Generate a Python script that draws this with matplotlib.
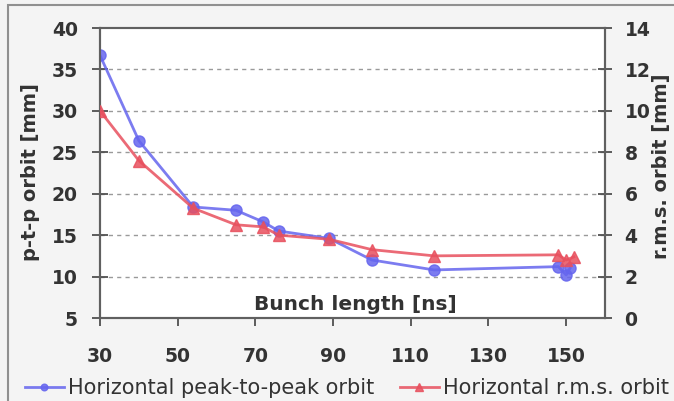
import matplotlib
matplotlib.use("Agg")
import matplotlib.pyplot as plt
from matplotlib.patches import Rectangle

plt.rcParams['font.family'] = ['DejaVu Sans']

# data
bunch_len_ptp = [30, 40, 54, 65, 72, 76, 89, 100, 116, 148, 150, 151]
ptp_orbit = [36.7, 26.4, 18.4, 18.0, 16.6, 15.5, 14.6, 12.0, 10.8, 11.2, 10.2, 11.0]
bunch_len_rms = [30, 40, 54, 65, 72, 76, 89, 100, 116, 148, 150, 152]
rms_orbit = [10.0, 7.6, 5.3, 4.5, 4.4, 4.0, 3.8, 3.3, 3.0, 3.05, 2.8, 2.95]

x_ticks = [30, 50, 70, 90, 110, 130, 150]
left_ticks = [5, 10, 15, 20, 25, 30, 35, 40]
right_ticks = [0, 2, 4, 6, 8, 10, 12, 14]

blue = '#6565ee'
red = '#e8505e'
txt = '#333333'

fig = plt.figure(figsize=(6.74, 4.01), dpi=100)
fig.patch.set_facecolor('#f4f4f4')
fig.patches.append(Rectangle((8/674, -0.1), 1.0, 1 - 5/401 + 0.1, transform=fig.transFigure,
                             fill=False, edgecolor='#909090', lw=1.5))

ax = fig.add_axes([100/674, 1 - 318/401, 505/674, 290/401])
ax.set_facecolor('white')
ax2 = ax.twinx()

l1, = ax.plot(bunch_len_ptp, ptp_orbit, color=blue, marker='o', ms=8, lw=2,
              markerfacecolor=blue, markeredgecolor=blue, alpha=0.85, zorder=3)
l2, = ax2.plot(bunch_len_rms, rms_orbit, color=red, marker='^', ms=8.5, lw=2,
               markerfacecolor=red, markeredgecolor=red, alpha=0.85, zorder=3)

ax.set_xlim(30, 160)
ax.set_ylim(5, 40)
ax2.set_ylim(0, 14)
ax.set_xticks(x_ticks)
ax.set_yticks(left_ticks)
ax2.set_yticks(right_ticks)

for y in left_ticks[1:-1]:
    ax.axhline(y, color='#9a9a9a', lw=1.0, ls=(0, (3, 3)), zorder=1)

for a in (ax, ax2):
    for s in a.spines.values():
        s.set_color('#606060')
        s.set_linewidth(1.5)
ax.spines['top'].set_color('#909090')

ax.tick_params(axis='y', direction='inout', length=12, width=1.3, colors='#505050',
               labelsize=13.5, pad=10)
ax.tick_params(axis='x', direction='out', length=6, width=1.3, colors='#505050',
               labelsize=13.5, pad=15)
ax2.tick_params(axis='y', direction='inout', length=10, width=1.3, colors='#505050',
                labelsize=13.5, pad=9)
for lab in ax.get_xticklabels() + ax.get_yticklabels() + ax2.get_yticklabels():
    lab.set_fontweight('bold')
    lab.set_color(txt)

fig.text(31/674, 1 - 172/401, 'p-t-p orbit [mm]', rotation=90, ha='center', va='center',
         fontsize=14, fontweight='bold', color=txt)
fig.text(661/674, 1 - 166/401, 'r.m.s. orbit [mm]', rotation=90, ha='center', va='center',
         fontsize=14, fontweight='bold', color=txt)
ax.text(0.505, 0.048, 'Bunch length [ns]', transform=ax.transAxes, ha='center', va='center',
        fontsize=14.5, fontweight='bold', color=txt)

fig.legend([l1, l2], ['Horizontal peak-to-peak orbit', 'Horizontal r.m.s. orbit'],
           loc='center', bbox_to_anchor=(347/674, 1 - 388/401), ncol=2, frameon=False,
           fontsize=15, handlelength=1.9, handletextpad=0.2, columnspacing=1.2,
           markerscale=0.6, labelcolor=txt, borderpad=0, borderaxespad=0)

fig.savefig('out.png', dpi=100, facecolor=fig.get_facecolor())
